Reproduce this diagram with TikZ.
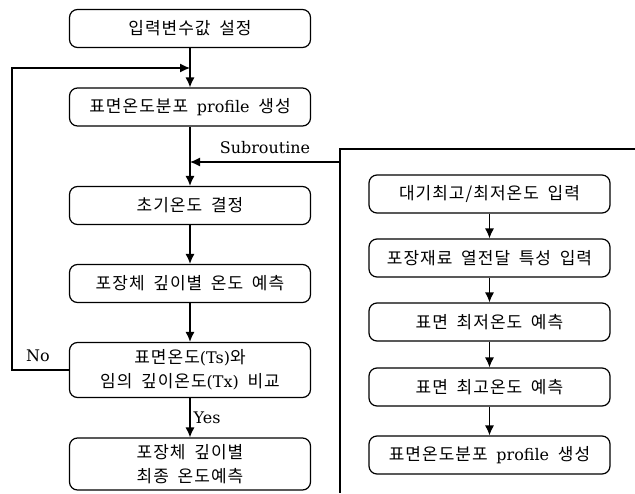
\documentclass[tikz,border=0pt]{standalone}
\usepackage{fontspec}
\setmainfont{DejaVu Serif}[Scale=0.94]
\newfontfamily\hfont{Noto Sans CJK KR}[LetterSpace=6,WordSpace=1.8]
\usetikzlibrary{arrows.meta}

\tikzset{
  box/.style={draw, rounded corners=8pt, line width=1.2pt,
    minimum width=241pt, minimum height=38pt, inner sep=0pt,
    align=center, font=\fontsize{17}{24}\selectfont\hfont},
  lbl/.style={font=\fontsize{17}{20}\selectfont},
}

\begin{document}
\begin{tikzpicture}[x=1pt,y=-1pt,line width=1.2pt]
        \useasboundingbox (0,0) rectangle (635,493);

        \begin{scope}[every node/.style={box}]
          \node (1)  at (190,28.5)  {입력변수값 설정};
          \node (2)  at (190,107)   {표면온도분포 {\rmfamily profile} 생성};
          \node (3)  at (190,205.5) {초기온도 결정};
          \node (4)  at (190,283.5) {포장체 깊이별 온도 예측};
          \node[minimum height=55pt] (5)  at (190,370)
            {표면온도{\rmfamily (Ts)}와\\임의 깊이온도{\rmfamily (Tx)} 비교};
          \node[minimum height=52pt] (6)  at (190,464)
            {포장체 깊이별\\최종 온도예측};

          \node (7)  at (489.5,194) {대기최고/최저온도 입력};
          \node (8)  at (489.5,258) {포장재료 열전달 특성 입력};
          \node (9)  at (489.5,322) {표면 최저온도 예측};
          \node (10) at (489.5,387) {표면 최고온도 예측};
          \node (11) at (489.5,455) {표면온도분포 {\rmfamily profile} 생성};
        \end{scope}

        \coordinate (loop)  at (12,68);
        \coordinate (merge) at (190,68);
        \coordinate (sub)   at (340,162);
        \coordinate (join)  at (190,162);
        \coordinate (frtop) at (635,149);
        \coordinate (frbot) at (340,493);

        \node[lbl] (no)  at (38,356)  {No};
        \node[lbl] (sbl) at (265,148) {Subroutine};

        \begin{scope}[every edge/.style={draw,-{Latex[length=10pt,width=9pt]}}]
          \path (1)  edge (2);
          \path (2)  edge (3);
          \path (3)  edge (4);
          \path (4)  edge (5);
          \path (5)  edge node[lbl,right] {Yes} (6);
          \path (7)  edge (8);
          \path (8)  edge (9);
          \path (9)  edge (10);
          \path (10) edge (11);
          \path (sub) edge (join);
        \end{scope}

        \draw[-{Latex[length=10pt,width=9pt]}] (5.west) -| (loop) -- (merge);
        \draw (frtop) -| (frbot);

      \end{tikzpicture}
\end{document}
